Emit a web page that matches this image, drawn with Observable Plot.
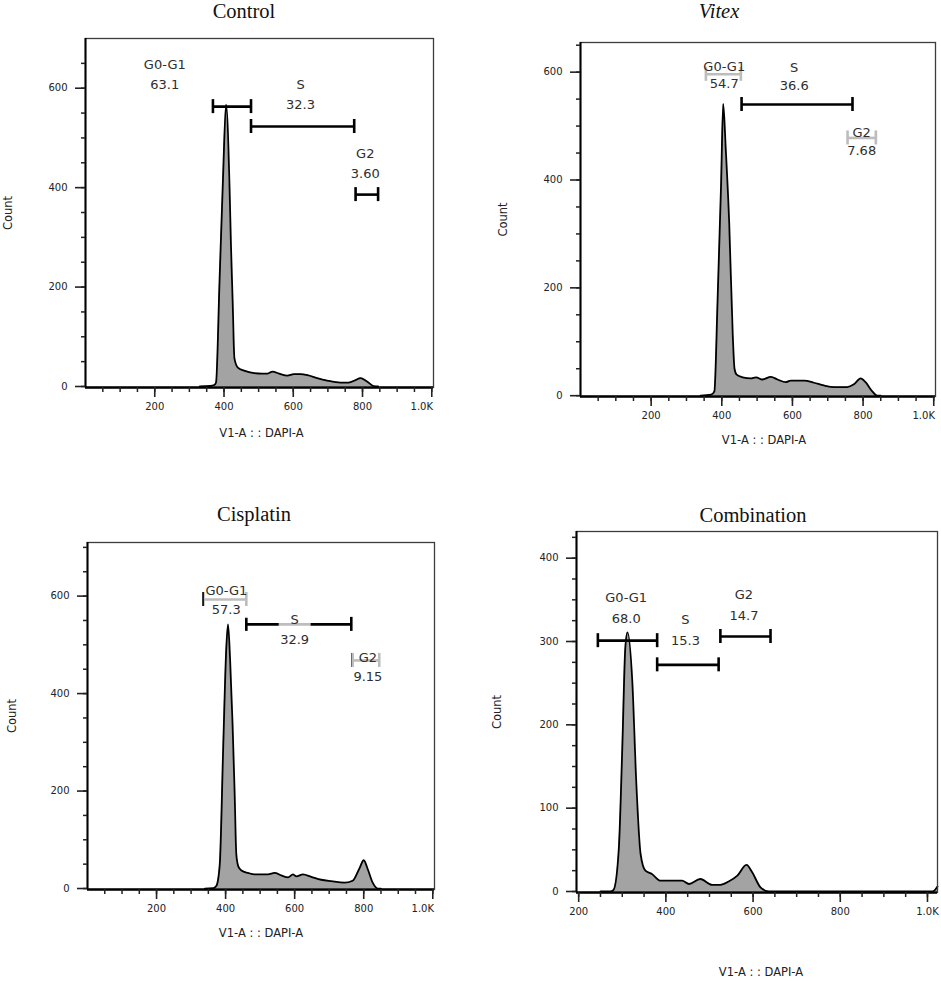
<!DOCTYPE html>
<html>
<head>
<meta charset="utf-8">
<script src="https://cdn.jsdelivr.net/npm/d3@7"></script>
<script src="https://cdn.jsdelivr.net/npm/@observablehq/plot@0.6"></script>
<style>
  body { margin: 0; background: #fff; }
  #wrap { position: relative; width: 941px; height: 981px; overflow: hidden; background: #fff; }
  .panel { position: absolute; }
  .title { position: absolute; width: 240px; text-align: center; font-family: "Liberation Serif", "Times New Roman", serif;
           font-size: 20.5px; line-height: 20.5px; color: #111; white-space: nowrap; }
</style>
</head>
<body>
<div id="wrap"></div>
<script>
// ---------------- data ----------------
const panelTitles = ["Control", "Vitex", "Cisplatin", "Combination"];
const xAxisTitle = "V1-A : : DAPI-A";
const yAxisTitle = "Count";

// DAPI-A channel (x) and cell count (y) for each histogram
const controlX     = [330, 360, 372, 377, 387, 397, 406, 416, 420, 425, 430, 440, 458, 487, 510, 526, 540, 559, 583, 602, 620, 641, 669, 698, 736, 760, 780, 794, 813, 832, 845];
const controlCount = [0,   1,   3,   8,   210, 417, 567, 401, 286, 171, 57,  38,  32,  27,  26,  26,  30,  26,  22,  25,  25,  23,  17,  12,  8,   8,   13,  17,  10,  1,   0];

const vitexX       = [340, 370, 379, 388, 398, 404, 411, 421, 431, 436, 442, 459, 482, 497, 515, 539, 558, 581, 595, 614, 633, 661, 689, 718, 755, 774, 793, 807, 826, 840, 850];
const vitexCount   = [0,   2,   8,   175, 392, 541, 460, 320, 113, 50,  39,  34,  32,  34,  30,  35,  30,  25,  28,  28,  28,  24,  19,  16,  16,  21,  32,  25,  8,   0,   0];

const cisplatinX     = [340, 365, 373, 383, 393, 402, 407, 413, 420, 426, 431, 437, 446, 465, 484, 523, 542, 561, 581, 595, 605, 624, 648, 677, 706, 744, 768, 788, 800, 812, 826, 841, 850];
const cisplatinCount = [0,   1,   5,   49,  289, 494, 542, 470, 340, 200, 70,  45,  37,  32,  29,  29,  32,  27,  23,  29,  25,  29,  24,  18,  15,  12,  16,  42,  58,  39,  12,  0,   0];

const comboX     = [250, 273, 280, 292, 300, 307, 312, 323, 332, 342, 353, 368, 388, 437, 453, 479, 506, 525, 544, 564, 585, 598, 617, 636, 1012, 1023];
const comboCount = [0,   0,   2,   51,  172, 293, 311, 252, 132, 45,  25,  21,  13,  13,  9,   15,  8,   8,   12,  19,  32,  23,  5,   0,   0,    6];

// gates: [name, x start, x end, count level]
const controlGates   = [["G0-G1", 368, 478, 563], ["S", 478, 776, 523], ["G2", 780, 845, 386]];
const vitexGates     = [["G0-G1", 355, 454, 596], ["S", 456, 770, 540], ["G2", 756, 836, 478]];
const cisplatinGates = [["G0-G1", 336, 460, 593], ["S", 460, 764, 542], ["G2", 768, 845, 468]];
const comboGates     = [["G0-G1", 244, 380, 301], ["S", 380, 521, 272], ["G2", 525, 640, 306]];

// gate labels: [name, percent, x, count]
const controlLabels   = [["G0-G1", "63.1", 229, 632], ["S", "32.3", 621, 591], ["G2", "3.60", 808, 453]];
const vitexLabels     = [["G0-G1", "54.7", 407, 597], ["S", "36.6", 605, 594], ["G2", "7.68", 796, 473]];
const cisplatinLabels = [["G0-G1", "57.3", 402, 596], ["S", "32.9", 600, 535], ["G2", "9.15", 812, 458]];
const comboLabels     = [["G0-G1", "68.0", 309, 343], ["S", "15.3", 445, 316], ["G2", "14.7", 579, 347]];

// axis ticks
const xMajorTicks = [200, 400, 600, 800, 1000];
const xMinorTicksWide = d3.range(50, 1001, 50);
const xMinorTicksCombo = d3.range(200, 1001, 50);
const yMajorTicks = [0, 200, 400, 600];
const yMajorTicksCombo = [0, 100, 200, 300, 400];

// ---------------- drawing ----------------
const LABEL_FILL = "#2e2e2e";
const wrap = document.getElementById("wrap");
const fmtK = d => d >= 1000 ? "1.0K" : String(d);

function drawPanel(cfg) {
  const data = cfg.xs.map((x, i) => ({x, c: cfg.counts[i]}));
  const gates = cfg.gates.map(([name, x1, x2, y]) => ({name, x1, x2, y}));
  const caps = gates.flatMap(g => [{x: g.x1, y: g.y}, {x: g.x2, y: g.y}]);
  const labels = cfg.labels.map(([name, value, x, y]) => ({name, value, x, y}));
  const [ml, mt, mr, mb] = cfg.margins;

  const xLabelMarks = cfg.kEnd
    ? [
        Plot.axisX(xMajorTicks, {tickSize: 10, tickPadding: 5, strokeWidth: 1.6, label: null,
          tickFormat: d => d >= 1000 ? "" : String(d)}),
        Plot.axisX([1000], {tickSize: 0, tickPadding: 15, dx: -10, label: null, tickFormat: fmtK})
      ]
    : [
        Plot.axisX(xMajorTicks, {tickSize: 10, tickPadding: 5, strokeWidth: 1.6, label: null, tickFormat: fmtK})
      ];

  const plot = Plot.plot({
    width: cfg.width, height: cfg.height,
    marginLeft: ml, marginTop: mt, marginRight: mr, marginBottom: mb,
    x: {domain: cfg.xDomain, label: null},
    y: {domain: cfg.yDomain, label: null},
    style: {fontFamily: "'DejaVu Sans', Verdana, sans-serif", fontSize: "10px", color: "#222", background: "transparent", overflow: "visible"},
    marks: [
      Plot.areaY(data, {x: "x", y: "c", fill: "#a3a3a3", curve: "monotone-x"}),
      Plot.lineY(data, {x: "x", y: "c", stroke: "#000", strokeWidth: 1.8, curve: "monotone-x"}),
      Plot.frame({stroke: "#3c3c3c", strokeWidth: 1.3}),
      Plot.ruleX([cfg.xDomain[0]], {stroke: "#000", strokeWidth: 2}),
      Plot.ruleY([cfg.yDomain[0]], {stroke: "#000", strokeWidth: 2.4}),
      Plot.axisX(cfg.xMinor, {tickSize: 5, tickFormat: () => "", strokeWidth: 1.5, label: null}),
      ...xLabelMarks,
      Plot.axisY(cfg.yMinor, {tickSize: 4, tickFormat: () => "", strokeWidth: 1.5, label: null}),
      Plot.axisY(cfg.yMajor, {tickSize: 10, tickPadding: 8, strokeWidth: 1.6, label: null,
        tickFormat: d => String(d)}),
      Plot.ruleY(gates, {y: "y", x1: "x1", x2: "x2", stroke: "#000", strokeWidth: 2.6}),
      Plot.ruleX(caps, {x: "x", y1: "y", y2: "y", insetTop: -7, insetBottom: -7, stroke: "#000", strokeWidth: 2.6}),
      Plot.text(labels, {x: "x", y: "y", text: d => `${d.name}\n${d.value}`, fontSize: 13,
        lineHeight: cfg.lineH, fill: LABEL_FILL, textAnchor: "middle", lineAnchor: "middle"}),
      Plot.text([xAxisTitle], {text: d => d, frameAnchor: "bottom", dx: cfg.xTitleDx, dy: cfg.xTitleDy,
        textAnchor: "middle", lineAnchor: "middle", fontSize: 11.5, fill: "#222"}),
      Plot.text([yAxisTitle], {text: d => d, frameAnchor: "left", dx: -cfg.yTitleDx, rotate: -90,
        textAnchor: "middle", lineAnchor: "middle", fontSize: 11.5, fill: "#222"})
    ]
  });

  const holder = document.createElement("div");
  holder.className = "panel";
  holder.style.left = cfg.left + "px";
  holder.style.top = cfg.top + "px";
  holder.appendChild(plot);
  wrap.appendChild(holder);

  // semi-transparent white boxes behind gate labels (gates under them show light grey)
  const texts = plot.querySelectorAll(`g[fill="${LABEL_FILL}"] > text`);
  texts.forEach(t => {
    const b = t.getBBox();
    const r = document.createElementNS("http://www.w3.org/2000/svg", "rect");
    r.setAttribute("x", b.x - 1.5);
    r.setAttribute("y", b.y - 1);
    r.setAttribute("width", b.width + 3);
    r.setAttribute("height", b.height + 2);
    r.setAttribute("fill", "#fff");
    r.setAttribute("fill-opacity", "0.74");
    r.setAttribute("stroke", "none");
    const tr = t.getAttribute("transform");
    if (tr) r.setAttribute("transform", tr);
    t.parentNode.insertBefore(r, t);
  });

  const title = document.createElement("div");
  title.className = "title";
  title.textContent = cfg.title;
  title.style.left = (cfg.titleX - 120) + "px";
  title.style.top = (cfg.titleBaseline - 17.2) + "px";
  if (cfg.italic) title.style.fontStyle = "italic";
  wrap.appendChild(title);
}

drawPanel({
  title: panelTitles[0], titleX: 244, titleBaseline: 18.3,
  left: 0, top: 0, width: 470, height: 450, margins: [85, 38, 37, 63],
  xDomain: [0, 1005], yDomain: [-2, 700], kEnd: true,
  xs: controlX, counts: controlCount, gates: controlGates, labels: controlLabels,
  xMinor: xMinorTicksWide, yMajor: yMajorTicks, yMinor: d3.range(0, 700, 50),
  lineH: 1.54, xTitleDx: 2, xTitleDy: 46, yTitleDx: 77
});
drawPanel({
  title: panelTitles[1], titleX: 719, titleBaseline: 18.3, italic: true,
  left: 470, top: 0, width: 471, height: 450, margins: [110, 42, 6, 54],
  xDomain: [0, 1005], yDomain: [-1.5, 655], kEnd: true,
  xs: vitexX, counts: vitexCount, gates: vitexGates, labels: vitexLabels,
  xMinor: xMinorTicksWide, yMajor: yMajorTicks, yMinor: d3.range(0, 655, 50),
  lineH: 1.37, xTitleDx: 6, xTitleDy: 44, yTitleDx: 77
});
drawPanel({
  title: panelTitles[2], titleX: 254, titleBaseline: 520.7,
  left: 0, top: 480, width: 470, height: 470, margins: [87, 62, 36, 61],
  xDomain: [0, 1005], yDomain: [-2, 710], kEnd: true,
  xs: cisplatinX, counts: cisplatinCount, gates: cisplatinGates, labels: cisplatinLabels,
  xMinor: xMinorTicksWide, yMajor: yMajorTicks, yMinor: d3.range(0, 710, 50),
  lineH: 1.5, xTitleDx: 0, xTitleDy: 44, yTitleDx: 75
});
drawPanel({
  title: panelTitles[3], titleX: 753, titleBaseline: 521.7,
  left: 470, top: 480, width: 471, height: 501, margins: [106, 51, 4, 89],
  xDomain: [195, 1023], yDomain: [-1.2, 432], kEnd: false,
  xs: comboX, counts: comboCount, gates: comboGates, labels: comboLabels,
  xMinor: xMinorTicksCombo, yMajor: yMajorTicksCombo, yMinor: d3.range(0, 430, 25),
  lineH: 1.62, xTitleDx: 4, xTitleDy: 80, yTitleDx: 79
});
</script>
</body>
</html>
